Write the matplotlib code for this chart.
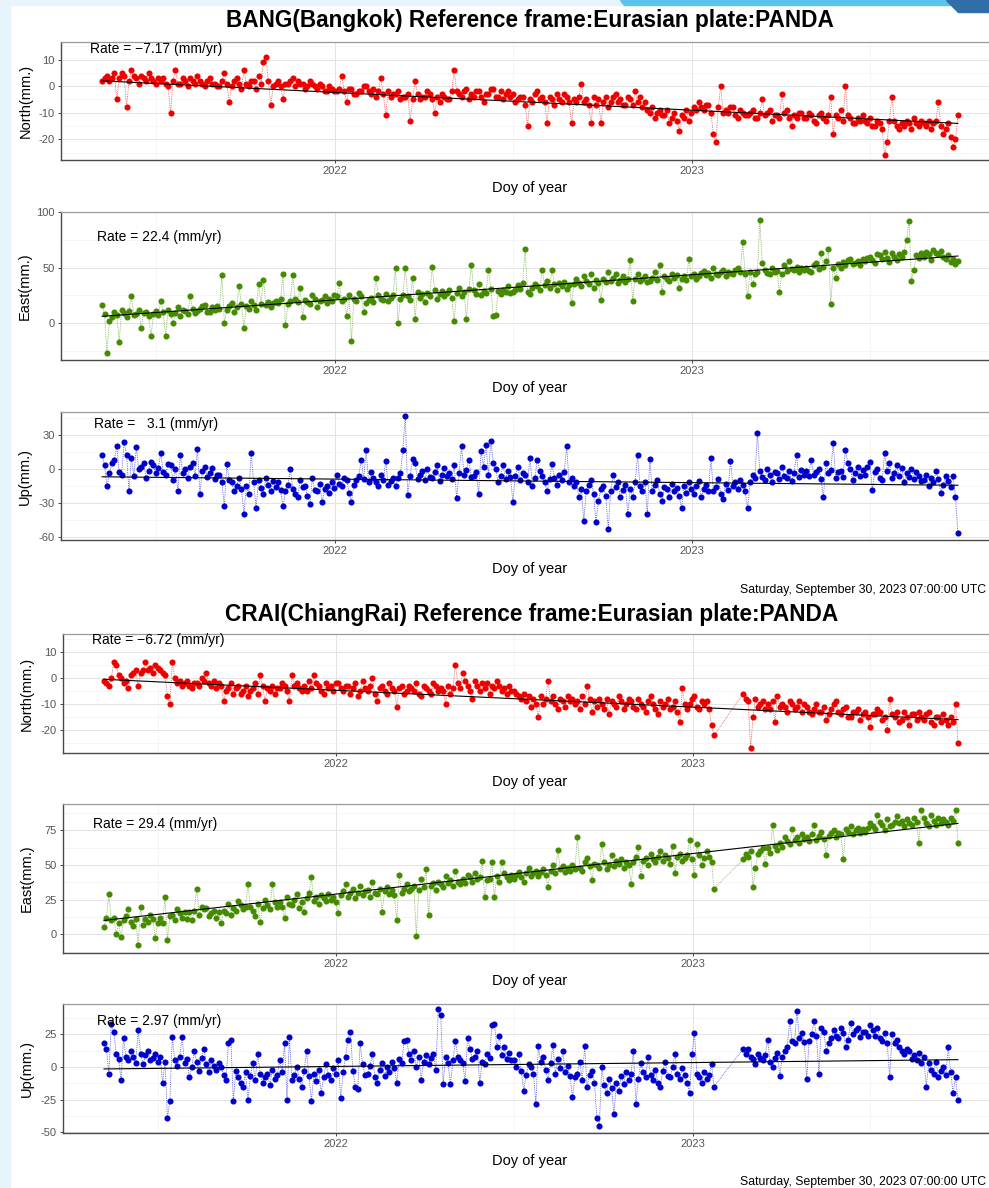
import numpy as np
import pandas as pd
import matplotlib
matplotlib.use("Agg")
import matplotlib.pyplot as plt
from matplotlib.patches import Rectangle, Polygon


# ----------------------------------------------------------------------
# Figure geometry (pixels of the finished picture)
# ----------------------------------------------------------------------
W, H = 989, 1188
FONT = ["Liberation Sans", "DejaVu Sans"]

START = "2021-05-08"              # first solution drawn
STEP = pd.Timedelta(hours=60)     # one reading every 2.5 days

RED = "#ee0000"
GREEN = "#458b00"
BLUE = "#0000cd"

# ----------------------------------------------------------------------
# Data (mm); one row = 24 readings (~2 months)
# ----------------------------------------------------------------------
bang_north = [
    2, 3, 4, 2, 3, 5, -5, 3, 5, 4, -8, 2, 6, 4, 3, 1, 4, 3, 2, 5, 3, 2, 1, 3,
    2, 3, 1, 0, -10, 2, 6, 1, 1, 3, 2, 0, 3, 2, 1, 4, 2, 1, 0, 2, 3, 1, 1, 0,
    0, 2, 5, 1, -6, 0, 2, 3, 1, -1, 6, 1, 0, 2, 2, -1, 4, 1, 9, 11, 2, -7, 0, 1,
    2, 0, -5, 1, 1, 2, 3, 0, 2, 1, 1, -1, 0, 2, 1, 0, -1, 1, 0, -2, -2, 0, -1, -2,
    -2, -1, 4, -2, -6, -1, -1, -3, -3, -2, -2, 0, 0, -2, -3, -1, -4, -2, 3, -3, -11, -2, -4, -3,
    -3, -2, -5, -4, -4, -3, -13, -5, 2, -3, -5, -4, -4, -2, -3, -5, -10, -4, -6, -3, -4, -5, -5, -2,
    6, -2, -3, -4, -2, -1, -5, -3, -4, -2, -2, -4, -6, -3, -3, -1, -1, -4, -4, -2, -5, -3, -2, -4,
    -3, -6, -5, -4, -4, -7, -15, -5, -6, -3, -2, -5, -4, -6, -14, -4, -5, -7, -3, -5, -6, -3, -4, -6,
    -14, -5, -6, -4, 1, -6, -5, -7, -14, -4, -7, -5, -14, -6, -4, -8, -6, -4, -3, -6, -5, -7, -7, -4,
    -5, -7, -2, -6, -4, -8, -6, -9, -10, -8, -12, -10, -9, -11, -11, -9, -14, -12, -10, -13, -17, -11, -12, -9,
    -13, -10, -8, -9, -6, -8, -9, -7, -7, -10, -18, -21, -8, 0, -10, -9, -10, -8, -8, -11, -12, -9, -10, -11,
    -11, -10, -9, -12, -12, -10, -5, -11, -10, -9, -13, -11, -11, -12, -3, -10, -9, -12, -15, -11, -12, -10, -10, -12,
    -12, -10, -11, -13, -14, -11, -10, -12, -13, -11, -4, -18, -11, -12, -9, -13, 0, -11, -12, -14, -14, -12, -13, -11,
    -13, -14, -12, -15, -15, -13, -14, -16, -26, -21, -13, -4, -13, -15, -16, -14, -15, -13, -14, -16, -12, -14, -15, -13,
    -14, -15, -13, -16, -14, -13, -6, -15, -18, -16, -14, -19, -23, -20, -11,
]
bang_east = [
    16, 8, -27, 2, 5, 10, 7, -17, 12, 9, 5, 11, 24, 7, 8, 12, -5, 9, 10, 6, -12, 8, 11, 7,
    20, 10, -12, 12, 8, 0, 9, 14, 6, 12, 11, 8, 24, 13, 9, 11, 13, 15, 16, 10, 10, 14, 12, 15,
    13, 43, 0, 12, 15, 18, 10, 14, 33, 17, -5, 15, 13, 20, 16, 12, 35, 17, 39, 16, 19, 14, 18, 20,
    18, 22, 44, -2, 17, 20, 43, 22, 19, 32, 5, 21, 19, 17, 25, 22, 14, 20, 21, 24, 18, 22, 20, 25,
    24, 36, 20, 22, 6, 25, -16, 22, 20, 27, 24, 10, 18, 21, 23, 19, 41, 25, 22, 21, 26, 20, 23, 25,
    50, 0, 22, 25, 50, 24, 21, 41, 4, 28, 23, 26, 19, 27, 24, 51, 30, 22, 26, 29, 24, 27, 30, 23,
    2, 27, 32, 24, 28, 4, 31, 52, 30, 26, 35, 25, 29, 27, 48, 31, 6, 7, 29, 26, 30, 28, 33, 27,
    28, 30, 34, 31, 36, 67, 28, 26, 32, 35, 33, 30, 48, 34, 38, 32, 48, 35, 30, 36, 33, 37, 31, 34,
    18, 35, 40, 36, 33, 42, 38, 35, 44, 32, 39, 36, 21, 40, 37, 46, 38, 41, 44, 36, 39, 42, 37, 40,
    57, 20, 40, 44, 38, 40, 42, 37, 38, 41, 46, 39, 52, 28, 42, 40, 38, 44, 41, 43, 32, 40, 42, 39,
    58, 42, 44, 40, 42, 45, 47, 43, 45, 41, 50, 44, 43, 46, 48, 42, 46, 45, 44, 48, 50, 46, 73, 44,
    24, 46, 35, 44, 46, 93, 54, 48, 45, 44, 50, 46, 47, 28, 44, 52, 47, 56, 49, 48, 51, 46, 50, 48,
    50, 47, 46, 52, 54, 49, 63, 51, 56, 67, 17, 50, 41, 53, 50, 55, 52, 57, 58, 53, 54, 56, 52, 58,
    56, 59, 60, 57, 54, 62, 61, 58, 64, 59, 55, 63, 60, 57, 62, 60, 64, 75, 92, 38, 48, 61, 59, 63,
    60, 64, 62, 57, 66, 63, 62, 65, 60, 58, 61, 55, 58, 53, 56,
]
bang_up = [
    12, 3, -15, -4, 5, 8, 20, -3, -5, 24, 12, -20, 10, -6, 19, 0, 2, 5, -8, -2, 6, 3, -4, 1,
    14, -3, -5, 4, 3, -10, 0, -20, 12, -4, 0, -8, 2, 5, -6, 18, -22, -2, 2, -7, -4, 1, -9, -5,
    -5, -12, -33, 4, -10, -12, -20, -15, -8, -18, -40, -15, -22, 14, -12, -35, -10, -17, -22, -8, -14, -20, -11, -16,
    -12, -19, -33, -20, -14, 0, -18, -22, -25, -10, -16, -15, -24, -31, -8, -19, -20, -13, -29, -18, -15, -21, -12, -17,
    -5, -13, -15, -8, -10, -21, -29, -14, -10, -6, 8, -9, 17, -12, -3, -8, -12, -15, -5, -10, 7, -14, -11, -8,
    -15, -8, -4, 17, 47, -23, -6, 9, 5, -9, -5, -2, -10, 0, -7, -8, -3, 3, -11, -5, 1, -6, -4, -9,
    3, -26, -4, 20, -5, -1, 8, -7, -6, -3, -22, 16, 2, 21, -5, 25, 5, 0, -12, -6, 3, -9, -2, -7,
    -29, -6, 2, -10, -4, -5, -12, 10, -15, -8, 8, -2, -6, -12, -20, -9, 4, -8, -14, -5, -10, -3, 20, -12,
    -8, -15, -12, -25, -18, -46, -20, -14, -10, -22, -47, -28, -18, -15, -24, -53, -20, -5, -16, -12, -25, -19, -14, -40,
    -18, -25, -12, 12, -15, -20, -12, -40, 9, -20, -14, -10, -22, -28, -16, -18, -25, -13, -20, -17, -24, -35, -15, -21,
    -12, -18, -22, -15, -11, -25, -18, -14, -20, 10, -20, -16, -9, -22, -27, -13, -19, 7, -15, -12, -18, -10, -14, -20,
    -35, -12, -5, -8, 32, -2, -7, -10, 0, -5, -12, -3, -4, -9, 2, -6, -8, -2, -11, -4, 12, -7, -1, -5,
    -2, -6, 8, -5, -3, 0, -9, -25, 5, -4, -1, 23, -8, -3, -2, -7, 17, 5, 0, -10, -4, 2, -6, -1,
    -5, 2, 6, -19, -3, 0, -8, -10, 14, -2, 5, -8, -4, 3, -6, 1, -12, -4, -7, 0, -9, -3, -6, -11,
    -10, -5, -15, -8, -12, -2, -9, -21, -14, -6, -11, -16, -6, -25, -57,
]
crai_north = [
    -1, -2, -3, 0, 6, 5, 1, 0, -2, -1, -4, 1, 2, 3, -3, 2, 3, 6, 3, 4, 2, 5, 4, 3,
    2, 1, -7, -10, 6, 0, -2, -1, -3, -2, -1, -3, -4, -2, -2, -3, 0, -1, 2, -2, -3, -1, -4, -2,
    -3, -9, -5, -4, -2, -6, -4, -3, -6, -5, -3, -7, -5, -4, -2, -6, 1, -3, -9, -4, -5, -3, -6, -4,
    -4, -2, -3, -5, -9, 1, -3, -2, -4, -5, -3, -5, -1, -4, 1, -2, -3, -5, -6, -2, -4, -3, -5, -2,
    -2, -4, -5, -3, -3, -6, -4, -2, -7, -5, -1, -4, -5, -3, 0, -6, -9, -4, -3, -5, -6, -2, -4, -5,
    -11, -4, -3, -6, -5, -3, -4, -5, -2, -6, -7, -3, -4, -5, -6, -2, -3, -5, -4, -5, -10, -3, -6, -4,
    5, -2, -4, 2, -1, -3, -5, -8, -1, -3, -5, -2, -4, -2, -6, -3, -4, -1, -3, -5, -4, -6, -3, -5,
    -5, -6, -7, -8, -6, -9, -7, -11, -8, -10, -15, -7, -10, -8, -1, -9, -7, -10, -12, -8, -9, -11, -7, -9,
    -8, -10, -9, -12, -7, -10, -3, -8, -13, -9, -11, -8, -10, -12, -8, -14, -9, -10, -11, -7, -9, -12, -10, -8,
    -9, -11, -12, -8, -10, -11, -13, -9, -7, -10, -12, -14, -9, -11, -10, -8, -12, -11, -9, -13, -17, -4, -10, -12,
    -10, -8, -7, -11, -12, -9, -10, -9, -12, -18, -22,
    None, None, None, None, None, None, None, None, None, None, None, -6, -8,
    -9, -27, -15, -8, -11, -10, -9, -12, -10, -12, -9, -17, -7, -11, -10, -11, -13, -9, -10, -12, -11, -9, -13, -10,
    -11, -13, -14, -12, -10, -13, -13, -11, -16, -14, -12, -10, -9, -13, -14, -12, -11, -15, -15, -13, -13, -12, -16, -14,
    -13, -15, -19, -14, -14, -12, -13, -16, -15, -20, -8, -14, -15, -13, -17, -16, -13, -15, -18, -14, -14, -16, -13, -15,
    -16, -14, -13, -17, -18, -15, -15, -17, -14, -16, -18, -15, -17, -10, -25,
]
crai_east = [
    5, 12, 29, 10, 12, 0, 8, -2, 10, 13, 18, 9, 6, 11, -8, 20, 7, 11, 9, 14, 11, -3, 8, 12,
    8, 27, -4, 13, 14, 10, 18, 15, 12, 16, 11, 16, 10, 17, 33, 14, 20, 18, 19, 13, 15, 17, 12, 16,
    8, 17, 15, 22, 14, 19, 17, 24, 21, 18, 20, 36, 20, 17, 13, 22, 9, 19, 25, 21, 18, 36, 23, 20,
    23, 20, 12, 27, 22, 21, 25, 29, 19, 23, 16, 26, 30, 41, 24, 27, 22, 28, 26, 24, 29, 25, 27, 23,
    15, 28, 31, 36, 27, 30, 33, 26, 30, 35, 28, 31, 32, 27, 38, 30, 29, 33, 16, 31, 34, 29, 32, 28,
    10, 43, 30, 33, 36, 31, 33, 35, -1, 32, 40, 34, 47, 14, 35, 37, 32, 38, 36, 34, 42, 37, 39, 35,
    46, 38, 36, 40, 37, 43, 41, 38, 44, 40, 41, 53, 27, 39, 40, 52, 27, 42, 38, 52, 44, 41, 39, 43,
    40, 43, 45, 41, 38, 44, 48, 42, 44, 46, 42, 45, 47, 43, 34, 46, 50, 44, 61, 47, 49, 45, 48, 46,
    50, 47, 70, 48, 46, 52, 55, 49, 39, 51, 50, 48, 65, 52, 47, 50, 57, 49, 53, 51, 54, 48, 52, 50,
    36, 52, 56, 63, 42, 53, 55, 50, 58, 54, 52, 56, 60, 53, 57, 55, 51, 64, 44, 56, 58, 53, 55, 57,
    68, 54, 43, 65, 57, 50, 55, 60, 56, 52, 33,
    None, None, None, None, None, None, None, None, None, None, None, 54, 58,
    56, 60, 34, 48, 58, 60, 62, 51, 62, 59, 79, 64, 61, 66, 63, 70, 67, 65, 76, 68, 70, 66, 72, 69,
    70, 67, 72, 79, 68, 71, 74, 69, 57, 71, 73, 75, 70, 73, 72, 54, 76, 74, 78, 72, 75, 77, 73, 76,
    74, 77, 80, 78, 76, 86, 81, 79, 75, 83, 78, 79, 81, 85, 80, 82, 78, 83, 80, 79, 84, 81, 66, 90,
    84, 80, 78, 86, 82, 79, 84, 80, 83, 81, 79, 84, 82, 90, 66,
]
crai_up = [
    18, 14, -5, 33, 27, 10, 6, -10, 22, 8, 5, 12, 8, 3, 28, 10, 2, 9, 12, 5, 7, 10, 4, 8,
    -12, 4, -39, -26, 23, 5, 1, 8, 23, 3, 6, -8, 0, 12, 4, -3, 7, 14, 2, -4, 5, 1, -2, 3,
    0, -6, -10, 18, 21, -26, -3, -8, -12, -15, -4, -25, -7, 3, -10, 10, -5, -12, -8, -5, -14, -2, -9, -6,
    5, -4, 18, -25, 23, -10, -6, 0, -9, -15, -3, 12, -7, -26, -5, -11, -2, -20, -8, 2, -6, -10, -1, -5,
    5, -24, -4, 8, 21, 27, -3, -15, -17, 18, 2, -6, -5, 1, 10, -8, -12, -2, 3, -7, 0, -4, 4, -1,
    -12, 6, 3, 20, 21, 10, 5, 12, 0, 8, -10, 4, 9, 2, 7, 10, -2, 44, 40, -13, 8, 3, -13, 5,
    20, 8, 5, 3, -11, 22, 14, 6, 8, 12, -12, 4, 2, 10, 7, 32, 33, 15, 24, 9, 15, 6, 11, 5,
    5, 0, 10, -3, -18, -6, 2, 0, -5, -28, 16, 4, 8, -2, -10, 3, 17, -5, 6, -1, 12, -4, 1, -7,
    -23, -8, -5, 4, -10, 16, -15, -6, -3, -12, -39, -45, 0, -14, -20, -9, -16, -36, -12, -18, -7, -13, -4, -10,
    -5, 12, -28, -9, 3, -4, -8, 8, -6, -10, -2, -12, -15, -3, 4, -7, -8, 0, 10, -5, -9, -1, -6, -12,
    -20, 10, 26, -5, -8, -12, -4, -9, -6, 2, -15,
    None, None, None, None, None, None, None, None, None, None, None, 14, 10,
    14, 8, 6, 2, 10, 7, 5, 9, 21, 4, 0, 7, 11, -7, 8, 12, 15, 35, 20, 18, 43, 22, 26, 19,
    -9, 20, 25, 35, 24, -5, 30, 27, 12, 18, 22, 28, 24, 22, 30, 26, 15, 21, 34, 25, 28, 30, 23, 27,
    27, 24, 32, 28, 24, 30, 22, 20, 26, 18, -8, 25, 18, 21, 15, 12, 10, 14, 12, 6, 9, 5, 11, 3,
    8, -15, 3, -2, -5, 4, -8, -3, 0, -6, 15, -4, -20, -8, -25,
]

# fitted line: value at first and at last epoch (mm)
bang_north_trend = [2.0, -14.0]
bang_east_trend = [6.0, 60.5]
bang_up_trend = [-7.0, -14.5]
crai_north_trend = [-0.5, -16.0]
crai_east_trend = [10.0, 80.0]
crai_up_trend = [-1.5, 5.6]

titles = [
    "BANG(Bangkok) Reference frame:Eurasian plate:PANDA",
    "CRAI(ChiangRai) Reference frame:Eurasian plate:PANDA",
]
stamp = "Saturday, September 30, 2023 07:00:00 UTC"
year_ticks = ["2022-01-01", "2023-01-01"]
year_labels = ["2022", "2023"]
mid_years = ["2021-07-02", "2022-07-02", "2023-07-02"]


def px_axes(fig, left, top, right, bottom):
    return fig.add_axes([left / W, 1 - bottom / H, (right - left) / W, (bottom - top) / H])


def fig_text(fig, x, y, s, **kw):
    kw.setdefault("family", FONT)
    return fig.text(x / W, 1 - y / H, s, **kw)


def draw_panel(fig, p):
    ax = px_axes(fig, *p["box"])
    y = np.array([np.nan if v is None else v for v in p["values"]], dtype=float)
    dates = pd.date_range(START, periods=len(y), freq=STEP)
    ok = ~np.isnan(y)

    ax.plot(dates[ok], y[ok], linestyle=(0, (1, 1.2)), color=p["colour"],
            linewidth=0.6, alpha=0.7, zorder=2)
    ax.plot(dates[ok], y[ok], linestyle="none", marker="o", markersize=4.4,
            markeredgewidth=0, color=p["colour"], zorder=3)
    ax.plot([dates[0], dates[-1]], p["trend"], color="black", linewidth=0.8, zorder=4)

    x0 = pd.Timestamp("2022-01-01")
    ax.set_xlim(x0 - pd.Timedelta(days=280), x0 + pd.Timedelta(days=678))
    ax.set_ylim(*p["ylim"])

    ax.set_xticks(pd.to_datetime(year_ticks))
    ax.set_xticklabels(year_labels)
    ax.set_xticks(pd.to_datetime(mid_years), minor=True)
    ax.set_yticks(p["yticks"])
    ax.set_yticklabels([str(t) for t in p["yticks"]])
    ax.set_yticks(p["yminor"], minor=True)

    ax.grid(which="major", color="#e3e3e3", linewidth=0.7)
    ax.grid(which="minor", color="#f1f1f1", linewidth=0.5)
    ax.set_axisbelow(True)

    ax.tick_params(which="major", length=2.4, width=0.7, color="#444444",
                   labelsize=8, labelcolor="#555555", pad=2)
    ax.tick_params(which="minor", length=0)
    for lab in ax.get_xticklabels() + ax.get_yticklabels():
        lab.set_family(FONT)

    ax.spines["top"].set_color("#9a9a9a")
    ax.spines["top"].set_linewidth(0.9)
    for side in ("left", "bottom"):
        ax.spines[side].set_color("#4a4a4a")
        ax.spines[side].set_linewidth(1.0)
    ax.spines["right"].set_visible(False)

    left, top, right, bottom = p["box"]
    fig_text(fig, p["ylab_x"], (top + bottom) / 2, p["ylabel"], rotation=90,
             ha="center", va="center", fontsize=10.5)
    fig_text(fig, 530, p["xlab_y"], "Doy of year", ha="center", va="center", fontsize=10.5)
    fig_text(fig, p["rate_xy"][0], p["rate_xy"][1], p["rate"], ha="left", va="center",
             fontsize=10)


def main():
    plt.rcParams["axes.unicode_minus"] = False
    fig = plt.figure(figsize=(W / 100, H / 100), dpi=100)
    fig.patch.set_facecolor("white")

    # slide frame behind the two screenshots
    fig.patches.append(Rectangle((0, 0), 10 / W, 1, transform=fig.transFigure,
                                 color="#e8f4fb", zorder=0))
    fig.patches.append(Rectangle((0, 1 - 5 / H), 1, 5 / H, transform=fig.transFigure,
                                 color="#e8f4fb", zorder=0))
    fig.patches.append(Polygon([(620 / W, 1), (950 / W, 1), (950 / W, 1 - 5 / H), (624 / W, 1 - 5 / H)],
                               transform=fig.transFigure, color="#5cc3ee", zorder=0))
    fig.patches.append(Polygon([(946 / W, 1), (1, 1), (1, 1 - 12 / H), (958 / W, 1 - 12 / H)],
                               transform=fig.transFigure, color="#2f6ea6", zorder=0))

    panels = [
        dict(values=bang_north, colour=RED, trend=bang_north_trend, box=(61, 42, 998, 160),
             ylim=(-27.75, 16.6), yticks=[-20, -10, 0, 10], yminor=[-25, -15, -5, 5, 15],
             ylabel="North(mm.)", ylab_x=26, xlab_y=188,
             rate="Rate = \u22127.17 (mm/yr)", rate_xy=(90, 49)),
        dict(values=bang_east, colour=GREEN, trend=bang_east_trend, box=(61, 212, 998, 360),
             ylim=(-33.5, 100.3), yticks=[0, 50, 100], yminor=[-25, 25, 75],
             ylabel="East(mm.)", ylab_x=25, xlab_y=388,
             rate="Rate = 22.4 (mm/yr)", rate_xy=(97, 237)),
        dict(values=bang_up, colour=BLUE, trend=bang_up_trend, box=(61, 412, 998, 540),
             ylim=(-62.9, 50.3), yticks=[-60, -30, 0, 30], yminor=[-45, -15, 15, 45],
             ylabel="Up(mm.)", ylab_x=25, xlab_y=569,
             rate="Rate =   3.1 (mm/yr)", rate_xy=(94, 424)),
        dict(values=crai_north, colour=RED, trend=crai_north_trend, box=(63, 634, 998, 753),
             ylim=(-28.8, 16.9), yticks=[-20, -10, 0, 10], yminor=[-25, -15, -5, 5, 15],
             ylabel="North(mm.)", ylab_x=27, xlab_y=782,
             rate="Rate = \u22126.72 (mm/yr)", rate_xy=(92, 640)),
        dict(values=crai_east, colour=GREEN, trend=crai_east_trend, box=(63, 804, 998, 953),
             ylim=(-13.5, 94.0), yticks=[0, 25, 50, 75], yminor=[-12.5, 12.5, 37.5, 62.5, 87.5],
             ylabel="East(mm.)", ylab_x=27, xlab_y=981,
             rate="Rate = 29.4 (mm/yr)", rate_xy=(93, 824)),
        dict(values=crai_up, colour=BLUE, trend=crai_up_trend, box=(63, 1004, 998, 1133),
             ylim=(-50.5, 48.2), yticks=[-50, -25, 0, 25], yminor=[-37.5, -12.5, 12.5, 37.5],
             ylabel="Up(mm.)", ylab_x=27, xlab_y=1161,
             rate="Rate = 2.97 (mm/yr)", rate_xy=(97, 1021)),
    ]
    for p in panels:
        draw_panel(fig, p)

    fig_text(fig, 530, 20, titles[0], ha="center", va="center", fontsize=16.3, weight="bold")
    fig_text(fig, 532, 615, titles[1], ha="center", va="center", fontsize=16.3, weight="bold")
    fig_text(fig, 986, 590, stamp, ha="right", va="center", fontsize=8.8)
    fig_text(fig, 986, 1182, stamp, ha="right", va="center", fontsize=8.8)

    fig.savefig("out.png", dpi=100, facecolor=fig.get_facecolor())
    plt.close(fig)


if __name__ == "__main__":
    main()
